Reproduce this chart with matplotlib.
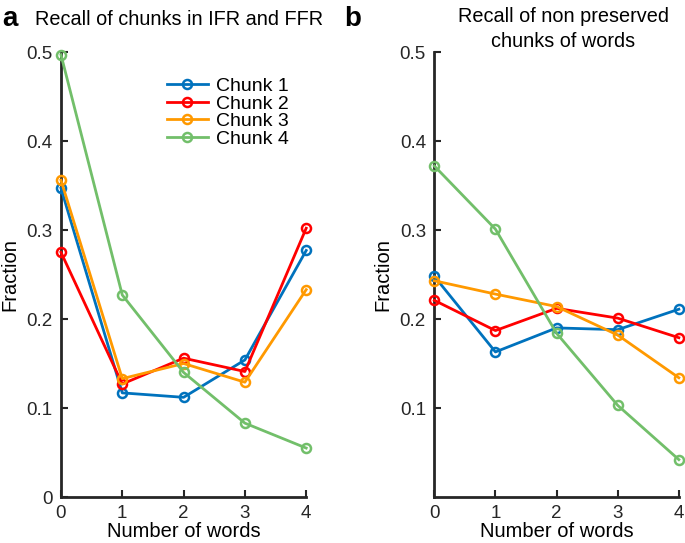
import numpy as np
import matplotlib.pyplot as plt

plt.rcParams['font.family'] = ['Liberation Sans', 'DejaVu Sans']

# ==================== DATA ====================
words = [0, 1, 2, 3, 4]
labels = ['Chunk 1', 'Chunk 2', 'Chunk 3', 'Chunk 4']
colors = ['#0072BD', '#FF0000', '#FF9900', '#72BF6A']

# panel a: recall of chunks in IFR and FFR
a_chunk1 = [0.347, 0.117, 0.112, 0.154, 0.277]
a_chunk2 = [0.275, 0.127, 0.156, 0.141, 0.302]
a_chunk3 = [0.356, 0.133, 0.150, 0.129, 0.233]
a_chunk4 = [0.497, 0.227, 0.140, 0.083, 0.055]

# panel b: recall of non preserved chunks
b_chunk1 = [0.248, 0.163, 0.190, 0.188, 0.211]
b_chunk2 = [0.221, 0.187, 0.212, 0.201, 0.179]
b_chunk3 = [0.243, 0.228, 0.214, 0.182, 0.134]
b_chunk4 = [0.372, 0.301, 0.184, 0.103, 0.042]

fig = plt.figure(figsize=(6.85, 5.43), dpi=100)
ax_a = fig.add_axes([0.089, 0.0847, 0.358, 0.8195])
ax_b = fig.add_axes([0.634, 0.0847, 0.357, 0.8195])


def style(ax, yticks):
    ax.set_xlim(0, 4)
    ax.set_ylim(0, 0.5)
    ax.set_xticks(words)
    ax.set_yticks(yticks)
    ax.set_yticklabels([f'{v:g}' for v in yticks])
    for s in ['top', 'right']:
        ax.spines[s].set_visible(False)
    for s in ['left', 'bottom']:
        ax.spines[s].set_linewidth(2)
        ax.spines[s].set_color('#262626')
    ax.tick_params(direction='in', length=5, width=1.5, labelsize=13.5,
                   colors='#262626', pad=6)
    ax.set_xlabel('Number of words', fontsize=14.5, labelpad=0)
    ax.set_ylabel('Fraction', fontsize=14.5, labelpad=5)


series_a = [a_chunk1, a_chunk2, a_chunk3, a_chunk4]
series_b = [b_chunk1, b_chunk2, b_chunk3, b_chunk4]

for ys, c, lab in zip(series_a, colors, labels):
    ax_a.plot(words, ys, '-o', color=c, lw=2, ms=6.5, mfc='none', mew=1.8,
              label=lab, clip_on=False, zorder=3)
for ys, c, lab in zip(series_b, colors, labels):
    ax_b.plot(words, ys, '-o', color=c, lw=2, ms=6.5, mfc='none', mew=1.8,
              label=lab, clip_on=False, zorder=3)

style(ax_a, [0, 0.1, 0.2, 0.3, 0.4, 0.5])
style(ax_b, [0.1, 0.2, 0.3, 0.4, 0.5])

ax_a.legend(loc='upper left', bbox_to_anchor=(0.393, 0.965), frameon=False,
            fontsize=14, handlelength=2.1, labelspacing=0.0,
            borderpad=0, handletextpad=0.4)

fig.text(0.003, 0.965, 'a', fontsize=20, fontweight='bold', va='center')
fig.text(0.051, 0.965, 'Recall of chunks in IFR and FFR', fontsize=14.3,
         va='center')
fig.text(0.502, 0.965, 'b', fontsize=20, fontweight='bold', va='center')
fig.text(0.822, 0.947, 'Recall of non preserved\nchunks of words', fontsize=14.3,
         ha='center', va='center', linespacing=1.4)

fig.savefig('out.png', dpi=100)
